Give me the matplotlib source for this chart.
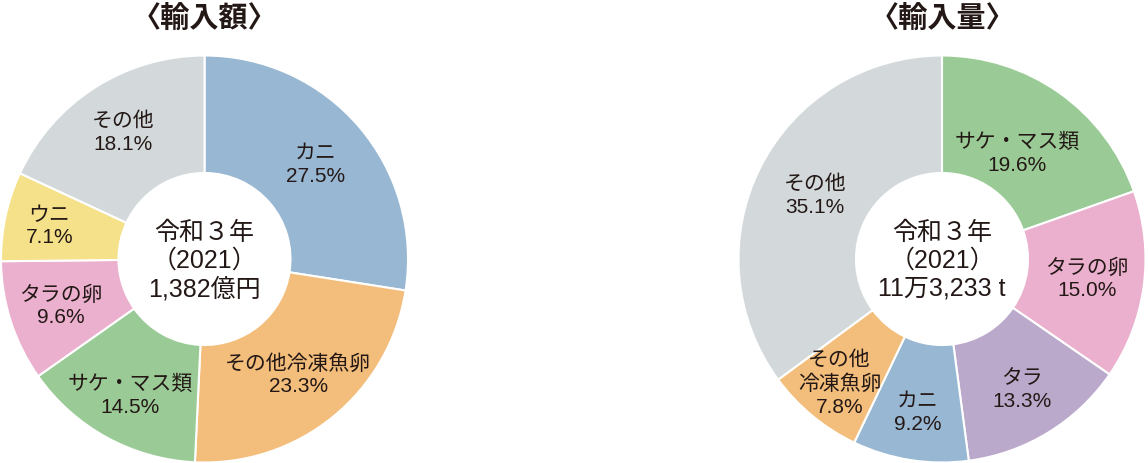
import matplotlib
matplotlib.use("Agg")
import matplotlib.pyplot as plt
import numpy as np

plt.rcParams['font.family'] = ['Noto Sans CJK JP', 'DejaVu Sans']

# ---- data ----
value_title = "〈輸入額〉"
value_center = "令和３年\n（2021）\n1,382億円"
value_labels = ["カニ", "その他冷凍魚卵", "サケ・マス類", "タラの卵", "ウニ", "その他"]
value_shares = [27.5, 23.3, 14.5, 9.6, 7.1, 18.1]

volume_title = "〈輸入量〉"
volume_center = "令和３年\n（2021）\n11万3,233 t"
volume_labels = ["サケ・マス類", "タラの卵", "タラ", "カニ", "その他\n冷凍魚卵", "その他"]
volume_shares = [19.6, 15.0, 13.3, 9.2, 7.8, 35.1]

# ---- styles ----
COL = {
    "カニ": "#97B7D2",
    "その他冷凍魚卵": "#F3BD7B",
    "その他\n冷凍魚卵": "#F3BD7B",
    "サケ・マス類": "#9ACB96",
    "タラの卵": "#EBB0CE",
    "ウニ": "#F5E18A",
    "その他": "#D3D9DB",
    "タラ": "#BBA9CB",
}
TXT = "#231815"
FAM = ['Liberation Sans', 'Noto Sans CJK JP', 'DejaVu Sans']

W, H = 1148, 464
fig = plt.figure(figsize=(W / 100, H / 100), dpi=100)

R_PX = 203.5
PAD = 1.04
INNER = 86 / 203.5


def donut(cx, cy, title, center, labels, shares, label_r):
    s = 2 * R_PX * PAD
    ax = fig.add_axes([(cx - R_PX * PAD) / W, (H - cy - R_PX * PAD) / H, s / W, s / H])
    wedges, _ = ax.pie(shares, colors=[COL[l] for l in labels], startangle=90,
                       counterclock=False, radius=1.0,
                       wedgeprops=dict(width=1 - INNER, edgecolor="white", linewidth=1.5))
    ax.set_xlim(-PAD, PAD)
    ax.set_ylim(-PAD, PAD)
    ax.set_aspect("equal")
    ax.axis("off")
    for w, lab, v, r in zip(wedges, labels, shares, label_r):
        ang = np.deg2rad((w.theta1 + w.theta2) / 2)
        x, y = r * np.cos(ang), r * np.sin(ang)
        ax.text(x, y, f"{lab}\n{v:.1f}%", ha="center", va="center",
                fontsize=15, color=TXT, linespacing=1.25, family=FAM)
    ax.text(0, -0.005, center, ha="center", va="center", fontsize=18,
            color=TXT, linespacing=1.2, family=FAM)
    fig.text(cx / W, 1 - 18 / H, title, ha="center", va="center",
             fontsize=21, fontweight="bold", color=TXT)


donut(204.5, 260, value_title, value_center, value_labels, value_shares,
      [0.72, 0.73, 0.76, 0.74, 0.78, 0.74])
donut(942, 260, volume_title, volume_center, volume_labels, volume_shares,
      [0.64, 0.72, 0.75, 0.76, 0.79, 0.70])

fig.savefig("out.png", dpi=100, facecolor="white")
